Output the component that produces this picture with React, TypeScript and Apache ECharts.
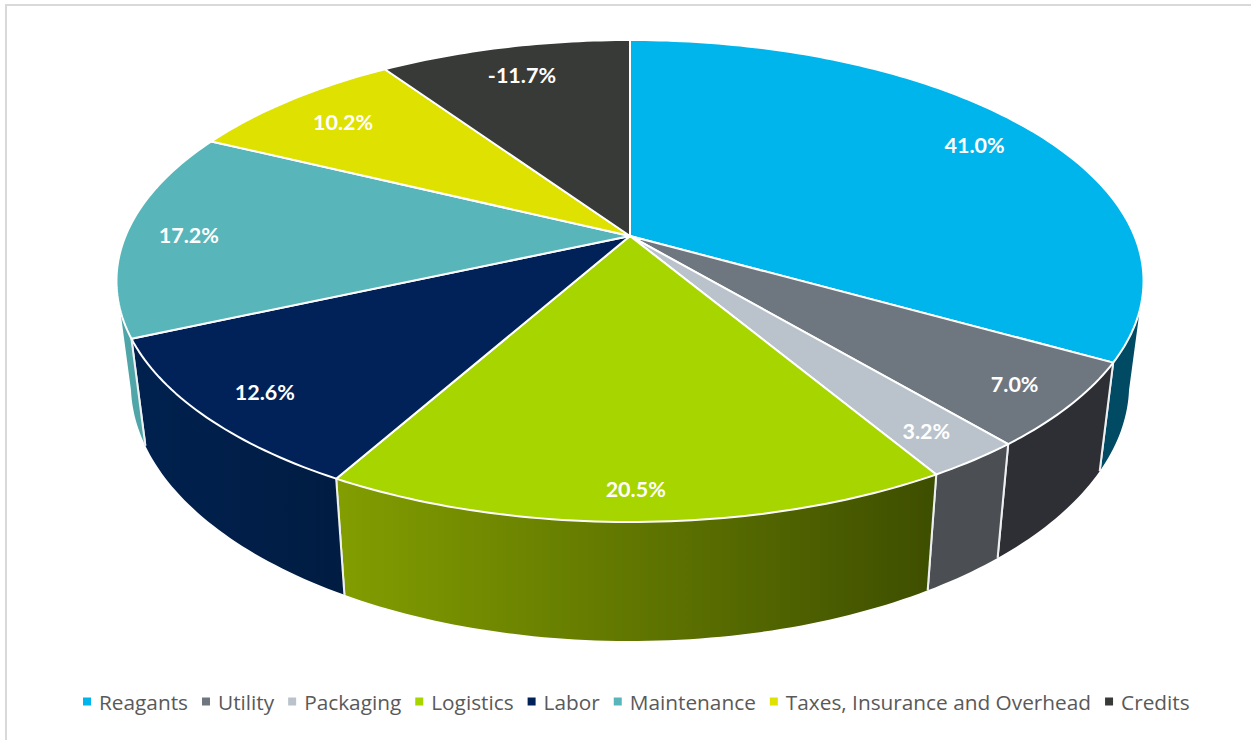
import React, { useEffect, useRef } from "react";
import * as echarts from "echarts";

const categories = ["Reagants", "Utility", "Packaging", "Logistics", "Labor", "Maintenance", "Taxes, Insurance and Overhead", "Credits"];
const values = [41.0, 7.0, 3.2, 20.5, 12.6, 17.2, 10.2, -11.7];
const topColors = ["#00B5EC", "#6E7780", "#BAC3CC", "#A6D500", "#002258", "#58B6BA", "#DFE100", "#383A37"];
const sideStart = ["#004A63", "#2D2F35", "#4B4E53", "#829E00", "#00214F", "#4FA5A7", "#8A8C00", "#222321"];
const sideEnd = ["#004A63", "#2D2F35", "#4B4E53", "#3E4E00", "#001C42", "#4FA5A7", "#8A8C00", "#222321"];

// Projection of the tilted disc onto the page
const CX = 630;
const CY = 236;
const K = 0.1867;
const AX = 504.5;
const AY = 232.6;
const BOTTOM_SX = 0.972;
const BOTTOM_SY = 1.065;
const BOTTOM_CY = 336.4;
const LABEL_R = 0.875;
// Small per-label layout nudges, in pixels, away from the common label radius
const labelNudge = [[-8, 4], [6, 2], [2, 3], [-1, 10], [1, 2], [-1, 3], [14, 7], [4, 7]];
// Visible part of the rim, in degrees clockwise from the back
const VIS_TOP_A = 107.5;
const VIS_TOP_B = 252.5;
const VIS_BOT_A = 102;
const VIS_BOT_B = 258;

const total = values.reduce((s, v) => s + Math.abs(v), 0);

function project(deg: number, r = 1): [number, number] {
  const t = (deg * Math.PI) / 180;
  const z = Math.cos(t) * r;
  const w = 1 + K * z;
  return [CX + (AX * Math.sin(t) * r) / w, CY - (AY * z) / w];
}
function lower(p: [number, number]): [number, number] {
  return [CX + BOTTOM_SX * (p[0] - CX), BOTTOM_CY + BOTTOM_SY * (p[1] - CY)];
}
function arc(a: number, b: number): number[] {
  const n = Math.max(2, Math.ceil(Math.abs(b - a)));
  const out: number[] = [];
  for (let i = 0; i <= n; i++) out.push(a + ((b - a) * i) / n);
  return out;
}

function renderSlice(params: any) {
  const i = params.seriesIndex;
  const before = values.slice(0, i).reduce((s, v) => s + Math.abs(v), 0);
  const a0 = (before / total) * 360;
  const a1 = ((before + Math.abs(values[i])) / total) * 360;
  const children: any[] = [];

  const a = Math.max(a0, VIS_TOP_A);
  const b = Math.min(a1, VIS_TOP_B);
  if (b > a) {
    const botA = a0 < VIS_TOP_A ? VIS_BOT_A : a;
    const botB = a1 > VIS_TOP_B ? VIS_BOT_B : b;
    const pts: [number, number][] = [
      ...arc(a, b).map((d) => project(d)),
      ...arc(botB, botA).map((d) => lower(project(d))),
    ];
    children.push({
      type: "polygon",
      shape: { points: pts },
      style: {
        fill: new echarts.graphic.LinearGradient(0, 0, 1, 0, [
          { offset: 0, color: sideStart[i] },
          { offset: 1, color: sideEnd[i] },
        ]),
      },
    });
    [a0, a1].forEach((d) => {
      if (d >= VIS_TOP_A && d <= VIS_TOP_B) {
        const p = project(d);
        children.push({
          type: "line",
          shape: { x1: p[0], y1: p[1], x2: lower(p)[0], y2: lower(p)[1] },
          style: { stroke: "#EDEFF0", lineWidth: 2 },
        });
      }
    });
  }

  const top: [number, number][] = [[CX, CY], ...arc(a0, a1).map((d) => project(d))];
  children.push({
    type: "polygon",
    shape: { points: top },
    style: { fill: topColors[i], stroke: "#FFFFFF", lineWidth: 2, lineJoin: "round" },
  });

  const mid = project((a0 + a1) / 2, LABEL_R);
  children.push({
    type: "text",
    style: {
      text: (values[i] < 0 ? "-" : "") + Math.abs(values[i]).toFixed(1) + "%",
      x: mid[0] + labelNudge[i][0],
      y: mid[1] + labelNudge[i][1],
      align: "center",
      verticalAlign: "middle",
      fill: "#FFFFFF",
      font: 'bold 21.5px Lato, "Open Sans", sans-serif',
    },
  });
  return { type: "group", children };
}

export default function App() {
  const ref = useRef<HTMLDivElement>(null);
  useEffect(() => {
    document.body.style.margin = "0";
    document.body.style.background = "#FFFFFF";
    const chart = echarts.init(ref.current!, undefined, { renderer: "svg" });
    chart.setOption({
      animation: false,
      backgroundColor: "#FFFFFF",
      legend: {
        data: categories,
        left: 83,
        top: 691,
        padding: 0,
        icon: "rect",
        itemWidth: 8,
        itemHeight: 8,
        itemGap: 14,
        selectedMode: false,
        textStyle: {
          color: "#595959",
          fontFamily: '"Open Sans", sans-serif',
          fontSize: 20.8,
          padding: [0, 0, 0, 3],
        },
      },
      graphic: [
        { type: "line", shape: { x1: 5, y1: 5, x2: 1251, y2: 5 }, style: { stroke: "#D9D9D9", lineWidth: 2 } },
        { type: "line", shape: { x1: 6, y1: 4, x2: 6, y2: 740 }, style: { stroke: "#D9D9D9", lineWidth: 2 } },
      ],
      series: categories.map((name, i) => ({
        type: "custom",
        name,
        coordinateSystem: "none",
        silent: true,
        itemStyle: { color: topColors[i] },
        data: [Math.abs(values[i])],
        renderItem: renderSlice,
      })),
    });
    return () => chart.dispose();
  }, []);
  return <div ref={ref} style={{ width: 1251, height: 740 }} />;
}
